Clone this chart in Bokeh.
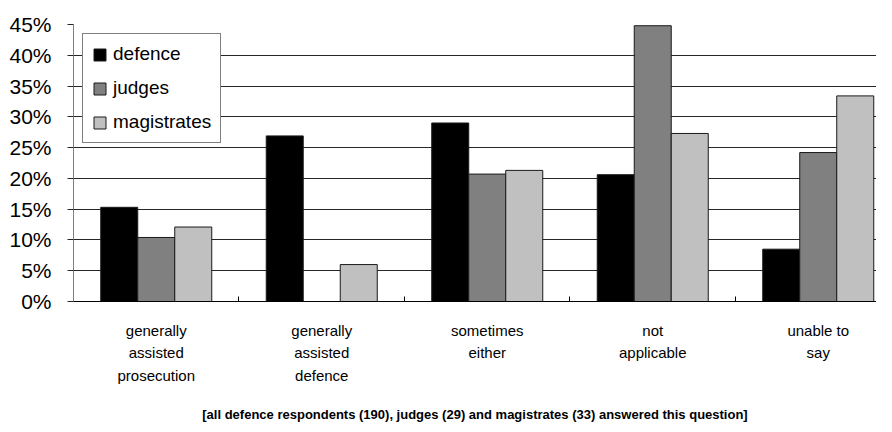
from bokeh.plotting import figure
from bokeh.models import (ColumnDataSource, Range1d, FixedTicker, PrintfTickFormatter,
                          Legend, LegendItem)
from bokeh.transform import dodge
from bokeh.embed import file_html
from bokeh.resources import INLINE

categories = ["generally\nassisted\nprosecution", "generally\nassisted\ndefence",
              "sometimes\neither", "not\napplicable", "unable to\nsay"]
defence = [15.3, 26.9, 29.0, 20.6, 8.5]
judges = [10.4, 0.0, 20.7, 44.8, 24.2]
magistrates = [12.1, 6.0, 21.3, 27.3, 33.4]
series_names = ["defence", "judges", "magistrates"]
series_colors = ["#000000", "#808080", "#c0c0c0"]
y_ticks = [0, 5, 10, 15, 20, 25, 30, 35, 40, 45]
caption = "[all defence respondents (190), judges (29) and magistrates (33) answered this question]"

centers = [i + 0.5 for i in range(len(categories))]
src = ColumnDataSource(dict(x=centers, defence=defence, judges=judges, magistrates=magistrates))

p = figure(frame_width=803, frame_height=277, output_backend="svg", toolbar_location=None,
           x_range=Range1d(0, 4.852), y_range=Range1d(0, 45),
           min_border_left=73, min_border_right=0, min_border_top=24, min_border_bottom=115)
p.outline_line_color = None
p.background_fill_color = "white"

bw = 0.2236
renderers = []
for k, (name, col) in enumerate(zip(series_names, series_colors)):
    r = p.vbar(x=dodge("x", (k - 1) * bw, range=p.x_range), top=name, width=bw, bottom=0,
               source=src, fill_color=col, line_color="#1a1a1a", line_width=1)
    renderers.append(r)

# y axis
yax = p.yaxis[0]
yax.ticker = FixedTicker(ticks=y_ticks)
yax.formatter = PrintfTickFormatter(format="%d%%")
yax.major_label_text_font = "Liberation Sans"
yax.major_label_text_font_size = "21px"
yax.major_label_text_color = "black"
yax.axis_line_color = "#808080"
yax.major_tick_out = 6
yax.major_tick_in = 0
yax.major_tick_line_color = "#262626"
yax.minor_tick_line_color = None
yax.major_label_standoff = 16

# x axis
xax = p.xaxis[0]
xax.ticker = FixedTicker(ticks=centers, minor_ticks=list(range(len(categories))))
xax.major_label_overrides = {c: lab for c, lab in zip(centers, categories)}
xax.major_tick_in = 0
xax.major_tick_out = 0
xax.minor_tick_in = 5
xax.minor_tick_out = 0
xax.minor_tick_line_color = "black"
xax.axis_line_color = "black"
xax.major_label_text_font = "Liberation Sans"
xax.major_label_text_font_size = "15px"
xax.major_label_text_line_height = 1.35
xax.major_label_text_color = "black"
xax.major_label_standoff = 20
xax.axis_label = caption
xax.axis_label_text_font = "Liberation Sans"
xax.axis_label_text_font_style = "bold"
xax.axis_label_text_font_size = "13px"
xax.axis_label_text_color = "black"
xax.axis_label_standoff = 20

p.xgrid.grid_line_color = None
p.ygrid.ticker = FixedTicker(ticks=y_ticks)
p.ygrid.grid_line_color = "#262626"
p.ygrid.grid_line_width = 1

legend = Legend(items=[LegendItem(label=n, renderers=[r]) for n, r in zip(series_names, renderers)],
                location="top_left")
legend.margin = 9
legend.padding = 9
legend.spacing = 12
legend.label_height = 20
legend.glyph_height = 15
legend.glyph_width = 15
legend.label_standoff = 6
legend.label_text_font = "Liberation Sans"
legend.label_text_font_size = "19px"
legend.label_text_color = "black"
legend.border_line_color = "black"
legend.border_line_width = 1
legend.background_fill_color = "white"
legend.background_fill_alpha = 1
p.add_layout(legend, "center")

open("out.html", "w").write(file_html(p, INLINE))
